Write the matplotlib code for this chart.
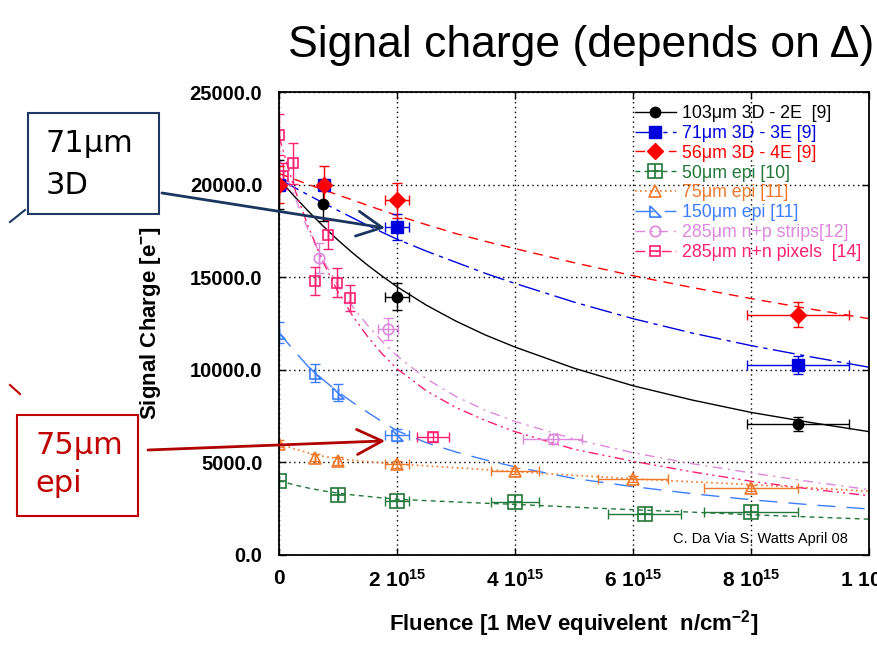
import numpy as np
import matplotlib
matplotlib.use('Agg')
import matplotlib.pyplot as plt
from matplotlib.lines import Line2D
from matplotlib.patches import Rectangle

plt.rcParams['font.family'] = ['Liberation Sans', 'DejaVu Sans']
plt.rcParams['mathtext.fontset'] = 'custom'
plt.rcParams['mathtext.rm'] = 'Liberation Sans:bold'
plt.rcParams['mathtext.bf'] = 'Liberation Sans:bold'
plt.rcParams['mathtext.default'] = 'bf'

# fluence in units of 1e15 n/cm2, signal charge in e-
# measured points
d103_x = [0, 0.75, 2.0, 8.8]
d103_y = [20000, 18950, 13950, 7050]
d103_xerr = [0, 0, 0.2, 0.87]
d103_yerr = [1300, 900, 720, 370]

d71_x = [0, 0.77, 2.0, 8.8]
d71_y = [20000, 20000, 17700, 10250]
d71_xerr = [0, 0, 0.2, 0.87]
d71_yerr = [0, 0, 700, 500]

d56_x = [0, 0.77, 2.0, 8.8]
d56_y = [20000, 20000, 19150, 12970]
d56_xerr = [0, 0, 0.2, 0.87]
d56_yerr = [1000, 1000, 950, 660]

e50_x = [0, 1.0, 2.0, 4.0, 6.2, 8.0]
e50_y = [4000, 3250, 2920, 2830, 2210, 2300]
e50_xerr = [0, 0, 0.2, 0.4, 0.62, 0.8]

e75_x = [0, 0.61, 1.0, 2.0, 4.0, 6.0, 8.0]
e75_y = [6000, 5240, 5060, 4880, 4510, 4100, 3610]
e75_xerr = [0, 0, 0, 0.2, 0.4, 0.6, 0.8]
e75_yerr = [200, 200, 200, 200, 150, 150, 150]

e150_x = [0, 0.61, 1.0, 2.0]
e150_y = [12000, 9830, 8750, 6490]
e150_xerr = [0, 0, 0, 0.2]
e150_yerr = [550, 500, 470, 320]

np_x = [0.68, 1.85, 4.64]
np_y = [16050, 12200, 6250]
np_xerr = [0, 0.17, 0.5]
np_yerr = [810, 590, 250]

nn_x = [0, 0.06, 0.23, 0.61, 0.83, 0.99, 1.2, 2.61]
nn_y = [22700, 20450, 21150, 14770, 17300, 14700, 13870, 6360]
nn_xerr = [0, 0, 0, 0, 0, 0, 0, 0.27]
nn_yerr = [1100, 700, 1100, 750, 770, 770, 720, 250]

# fitted curves
fit_x = [0, 0.25, 0.5, 0.75, 1, 1.25, 1.5, 1.75, 2, 2.5, 3, 3.5, 4, 5, 6, 7, 8, 9, 10]
fit_103 = [20300, 19400, 18550, 17750, 17000, 16300, 15650, 15050, 14480, 13480, 12620, 11870, 11220,
           10080, 9130, 8360, 7690, 7150, 6650]
fit_71 = [20300, 19860, 19430, 19010, 18600, 18200, 17800, 17420, 17050, 16400, 15800, 15200, 14660,
          13650, 12755, 11980, 11300, 10700, 10130]
fit_56 = [20600, 20300, 20000, 19720, 19440, 19160, 18880, 18600, 18330, 17830, 17350, 16930, 16540,
          15780, 15075, 14440, 13840, 13280, 12755]
fit_e50 = [4000, 3780, 3600, 3450, 3330, 3230, 3150, 3070, 3000, 2920, 2850, 2780, 2720,
           2570, 2430, 2300, 2160, 2040, 1920]
fit_e75 = [6000, 5730, 5500, 5320, 5190, 5100, 5030, 4960, 4900, 4800, 4700, 4600, 4490,
           4290, 4100, 3940, 3790, 3610, 3430]
fit_e150 = [12000, 11050, 10150, 9450, 8800, 8230, 7700, 7180, 6700, 6050, 5550, 5120, 4750,
            4120, 3680, 3300, 2970, 2700, 2470]
fit_np = [21500, 19500, 17500, 15900, 14550, 13400, 12400, 11520, 10750, 9500, 8550, 7800, 7200,
          6250, 5510, 4920, 4420, 3950, 3520]
fit_nn = [22600, 19900, 17700, 15800, 14200, 12900, 11800, 10850, 10050, 8850, 7950, 7250, 6650,
          5700, 5050, 4480, 3970, 3550, 3190]

x_ticks = [0, 2, 4, 6, 8, 10]
x_labels = ['0', '2 10$^{15}$', '4 10$^{15}$', '6 10$^{15}$', '8 10$^{15}$', '1 10$^{16}$']
y_ticks = [0, 5000, 10000, 15000, 20000, 25000]
y_labels = ['0.0', '5000.0', '10000.0', '15000.0', '20000.0', '25000.0']

labels = ['103\u03bcm 3D - 2E  [9]', '71\u03bcm 3D - 3E [9]', '56\u03bcm 3D - 4E [9]',
          '50\u03bcm epi [10]', '75\u03bcm epi [11]', '150\u03bcm epi [11]',
          '285\u03bcm n+p strips[12]', '285\u03bcm n+n pixels  [14]']

c_black = '#000000'
c_blue = '#0000dd'
c_red = '#ff0000'
c_green = '#22773a'
c_orange = '#f0782a'
c_lblue = '#3d7dff'
c_violet = '#dd88dd'
c_pink = '#ff2070'
colors = [c_black, c_blue, c_red, c_green, c_orange, c_lblue, c_violet, c_pink]

ls_103 = '-'
ls_71 = (0, (16, 4, 3, 4))
ls_56 = (0, (7, 5))
ls_e50 = (0, (3.5, 3))
ls_e75 = (0, (1, 2))
ls_e150 = (0, (13, 8))
ls_np = (0, (7, 4, 1.5, 4))
ls_nn = (0, (7, 3, 1.5, 3, 1.5, 3))

rtri = [(-1, 1), (-1, -1), (1, -1), (-1, 1)]

fig = plt.figure(figsize=(8.77, 6.61), dpi=100)
ax = fig.add_axes([0.3181, 0.1608, 0.6727, 0.7000])

# fit lines
ax.plot(fit_x, fit_103, color=c_black, ls=ls_103, lw=1)
ax.plot(fit_x, fit_71, color=c_blue, ls=ls_71, lw=1)
ax.plot(fit_x, fit_56, color=c_red, ls=ls_56, lw=1)
ax.plot(fit_x, fit_e50, color=c_green, ls=ls_e50, lw=1)
ax.plot(fit_x, fit_e75, color=c_orange, ls=ls_e75, lw=1.2)
ax.plot(fit_x, fit_e150, color=c_lblue, ls=ls_e150, lw=1)
ax.plot(fit_x, fit_np, color=c_violet, ls=ls_np, lw=1)
ax.plot(fit_x, fit_nn, color=c_pink, ls=ls_nn, lw=1)

eb = dict(fmt='none', elinewidth=1, capsize=3.5, capthick=1)
ax.errorbar(e50_x, e50_y, xerr=e50_xerr, ecolor=c_green, **eb)
ax.errorbar(e75_x, e75_y, xerr=e75_xerr, yerr=e75_yerr, ecolor=c_orange, **eb)
ax.errorbar(e150_x, e150_y, xerr=e150_xerr, yerr=e150_yerr, ecolor=c_lblue, **eb)
ax.errorbar(np_x, np_y, xerr=np_xerr, yerr=np_yerr, ecolor=c_violet, **eb)
ax.errorbar(nn_x, nn_y, xerr=nn_xerr, yerr=nn_yerr, ecolor=c_pink, **eb)
ax.errorbar(d103_x, d103_y, xerr=d103_xerr, yerr=d103_yerr, ecolor=c_black, **eb)
ax.errorbar(d71_x, d71_y, xerr=d71_xerr, yerr=d71_yerr, ecolor=c_blue, **eb)
ax.errorbar(d56_x, d56_y, xerr=d56_xerr, yerr=d56_yerr, ecolor=c_red, **eb)

ax.plot(e50_x, e50_y, ls='none', marker='s', ms=9.5, mfc='none', mec=c_green, mew=1.2)
ax.plot(e50_x, e50_y, ls='none', marker='+', ms=9.5, mec=c_green, mew=1.2)
ax.plot(e75_x, e75_y, ls='none', marker='^', ms=8.5, mfc='none', mec=c_orange, mew=1.2)
ax.plot(e150_x, e150_y, ls='none', marker=rtri, ms=8, mfc='none', mec=c_lblue, mew=1.2)
ax.plot(np_x, np_y, ls='none', marker='o', ms=7.5, mfc='none', mec=c_violet, mew=1.2)
ax.plot(nn_x, nn_y, ls='none', marker='s', ms=7.5, mfc='none', mec=c_pink, mew=1.2)
ax.plot(d103_x, d103_y, ls='none', marker='o', ms=7.5, color=c_black)
ax.plot(d71_x, d71_y, ls='none', marker='s', ms=8, color=c_blue)
ax.plot(d56_x, d56_y, ls='none', marker='D', ms=8, color=c_red)

ax.set_xlim(0, 10)
ax.set_ylim(0, 25000)
ax.set_xticks(x_ticks)
ax.set_xticklabels(x_labels, fontsize=15, fontweight='bold')
ax.set_yticks(y_ticks)
ax.set_yticklabels(y_labels, fontsize=14.5, fontweight='bold')
ax.tick_params(direction='in', length=5, width=1, top=True, right=True)
ax.tick_params(axis='y', pad=12)
ax.tick_params(axis='x', pad=10)
for s in ax.spines.values():
    s.set_linewidth(1.3)
ax.grid(True, color='black', ls=(0, (1, 2.5)), lw=1)
ax.set_axisbelow(True)

ax.set_xlabel('Fluence [1 MeV equivelent  n/cm$^{-2}$]', fontsize=16, fontweight='bold', labelpad=13)
ax.set_ylabel('Signal Charge [e$^{-}$]', fontsize=16, fontweight='bold', labelpad=19)

# legend
h = [
    Line2D([], [], color=c_black, ls=ls_103, lw=1, marker='o', ms=7.5),
    Line2D([], [], color=c_blue, ls=ls_71, lw=1, marker='s', ms=8),
    Line2D([], [], color=c_red, ls=ls_56, lw=1, marker='D', ms=8),
    (Line2D([], [], color=c_green, ls=ls_e50, lw=1, marker='s', ms=9.5, mfc='none', mew=1.2),
     Line2D([], [], color=c_green, ls='none', marker='+', ms=9.5, mew=1.2)),
    Line2D([], [], color=c_orange, ls=ls_e75, lw=1.2, marker='^', ms=8.5, mfc='none', mew=1.2),
    Line2D([], [], color=c_lblue, ls=ls_e150, lw=1, marker=rtri, ms=8, mfc='none', mew=1.2),
    Line2D([], [], color=c_violet, ls=ls_np, lw=1, marker='o', ms=7.5, mfc='none', mew=1.2),
    (Line2D([], [], color=c_pink, ls=ls_nn, lw=1, marker='s', ms=7.5, mfc='none', mew=1.2),
     Line2D([], [], color=c_pink, ls='none', marker='_', ms=7.5, mew=1.2)),
]
leg = ax.legend(h, labels, loc='upper left', bbox_to_anchor=(0.603, 0.972), frameon=False,
                fontsize=12.8, handlelength=2.3, handletextpad=0.35, labelspacing=0.16,
                borderpad=0, borderaxespad=0)
for t, c in zip(leg.get_texts(), colors):
    t.set_color(c)

ax.text(0.964, 0.025, 'C. Da Via S. Watts April 08', transform=ax.transAxes,
        ha='right', va='baseline', fontsize=10.5)

fig.text(0.663, 0.931, 'Signal charge (depends on \u0394)', ha='center', va='center', fontsize=32)

# callouts
navy = '#1f3864'
dred = '#c00000'
W, H = 877.0, 661.0
fig.add_artist(Rectangle((28 / W, 1 - 214 / H), 131 / W, 101 / H, transform=fig.transFigure,
                         fc='white', ec=navy, lw=1.5))
fig.text(46 / W, 1 - 143 / H, '71\u03bcm', fontsize=22, family='DejaVu Sans', va='center')
fig.text(46 / W, 1 - 186 / H, '3D', fontsize=22, family='DejaVu Sans', va='center')
fig.add_artist(Line2D([10 / W, 25 / W], [1 - 222 / H, 1 - 210 / H], transform=fig.transFigure, color=navy, lw=1.5))

fig.add_artist(Rectangle((17 / W, 1 - 516 / H), 121 / W, 101 / H, transform=fig.transFigure,
                         fc='white', ec=dred, lw=1.5))
fig.text(35 / W, 1 - 445 / H, '75\u03bcm', fontsize=22, family='DejaVu Sans', va='center', color=dred)
fig.text(35 / W, 1 - 484 / H, 'epi', fontsize=22, family='DejaVu Sans', va='center', color=dred)
fig.add_artist(Line2D([10 / W, 20 / W], [1 - 385 / H, 1 - 394 / H], transform=fig.transFigure, color=dred, lw=1.5))

ax.annotate('', xy=(1.8, 17650), xycoords='data', xytext=(162, H - 193), textcoords='figure pixels',
            arrowprops=dict(arrowstyle='->,head_length=0.9,head_width=0.45', color='#1a3560', lw=2,
                            shrinkA=0, shrinkB=0, mutation_scale=20),
            annotation_clip=False)
ax.annotate('', xy=(1.8, 6150), xycoords='data', xytext=(148, H - 450), textcoords='figure pixels',
            arrowprops=dict(arrowstyle='->,head_length=0.9,head_width=0.45', color='#b00000', lw=2,
                            shrinkA=0, shrinkB=0, mutation_scale=20),
            annotation_clip=False)

fig.savefig('out.png', dpi=100)
